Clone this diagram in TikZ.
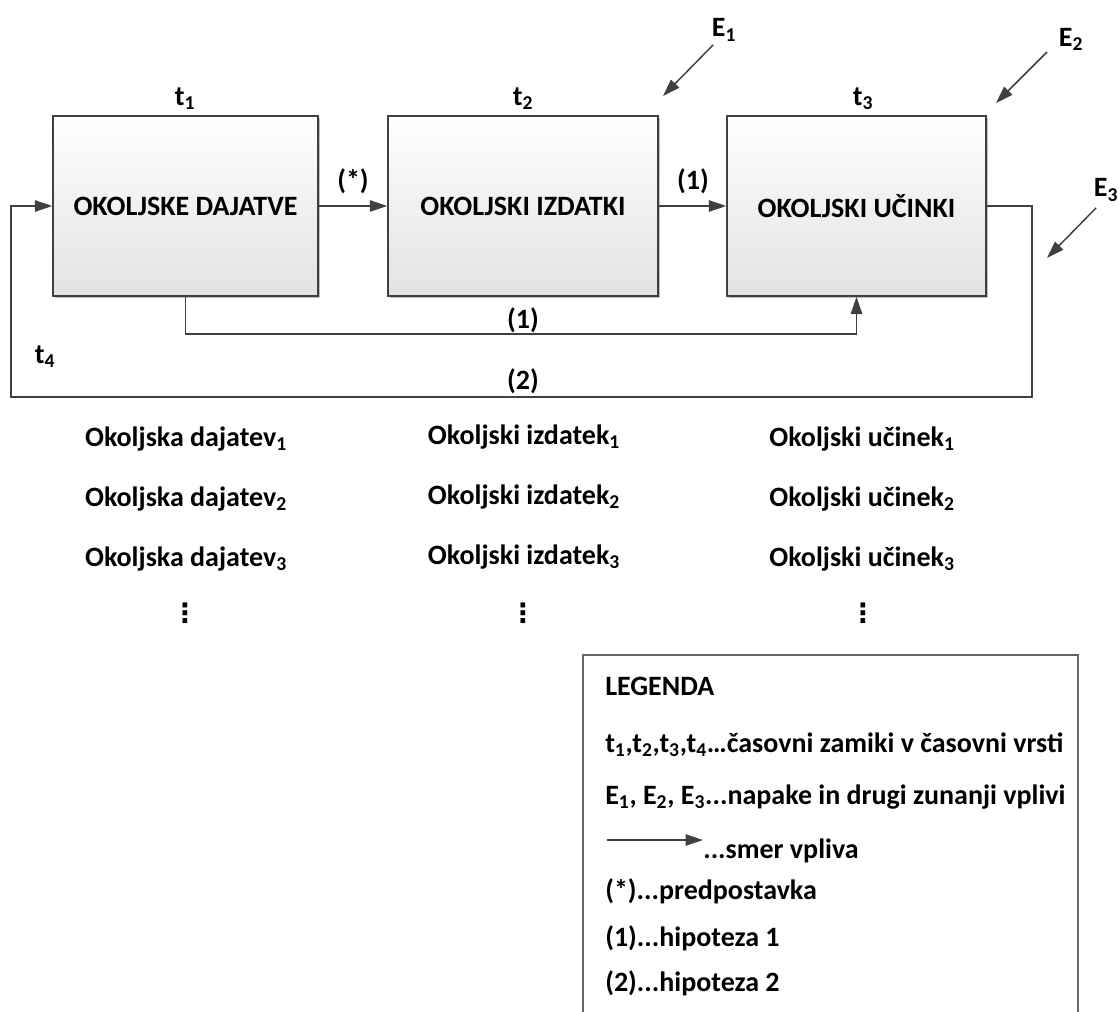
\documentclass[tikz,border=0pt]{standalone}
\usepackage{fontspec}
\setmainfont{Carlito}
\newfontfamily\dotsfont{DejaVu Sans}
\usetikzlibrary{arrows.meta,shadows}
\definecolor{ink}{HTML}{404040}
\definecolor{boxbot}{HTML}{E2E2E2}
\begin{document}
\begin{tikzpicture}[x=0.75pt,y=-0.75pt,
  lbl/.style={font=\fontsize{21}{25}\selectfont\bfseries, inner sep=0pt, text=black},
  vdot/.style={font=\fontsize{20}{24}\selectfont\dotsfont\bfseries, inner sep=0pt, text=black},
  blk/.style={lbl, draw=ink, line width=1.1pt, top color=white, bottom color=boxbot,
    minimum height=135pt,
    drop shadow={shadow xshift=1.5pt, shadow yshift=-1.5pt, opacity=0.25, fill=black}},
  conn/.style={draw=ink, line width=1.1pt, -{Triangle[length=13pt,width=8.5pt]}},
  wire/.style={draw=ink, line width=1.1pt}]
\useasboundingbox (0,0) rectangle (1119,1012);

% process blocks
\node[blk, minimum width=198.75pt] (b1) at (185.5,206) {OKOLJSKE DAJATVE};
\node[blk, minimum width=202.5pt] (b2) at (523,206) {OKOLJSKI IZDATKI};
\node[blk, minimum width=194.25pt] (b3) at (856.5,206) {OKOLJSKI UČINKI};

% time lags
\node[lbl] (t1) at (185,99) {t\textsubscript{1}};
\node[lbl] (t2) at (523,99) {t\textsubscript{2}};
\node[lbl] (t3) at (863,99) {t\textsubscript{3}};
\node[lbl] (t4) at (45,357) {t\textsubscript{4}};

% forward influences
\draw[conn] (b1.east) -- (b2.west);
\node[lbl] (ast) at (353,181) {(*)};
\draw[conn] (b2.east) -- (b3.west);
\node[lbl] (h1a) at (693,181) {(1)};

% direct link from block 1 to block 3
\coordinate (r1) at (0,334);
\draw[conn] (b1.south) |- (r1 -| b3.south) -- (b3.south);
\node[lbl] (h1b) at (523,320) {(1)};

% feedback loop
\coordinate (fbR) at (1032,397);
\coordinate (fbL) at (11,397);
\draw[conn] (b3.east) -| (fbR) -- (fbL) |- (b1.west);
\node[lbl] (h2) at (523,381) {(2)};

% external disturbances
\coordinate (e1s) at (713,45);  \coordinate (e1t) at (663,96);
\coordinate (e2s) at (1047,52); \coordinate (e2t) at (996,103);
\coordinate (e3s) at (1096,208); \coordinate (e3t) at (1047,258);
\draw[conn] (e1s) -- (e1t);
\draw[conn] (e2s) -- (e2t);
\draw[conn] (e3s) -- (e3t);
\node[lbl] (E1) at (724,30) {E\textsubscript{1}};
\node[lbl] (E2) at (1071,39) {E\textsubscript{2}};
\node[lbl] (E3) at (1106,190) {E\textsubscript{3}};

% item lists
\node[lbl] (d1) at (186,439) {Okoljska dajatev\textsubscript{1}};
\node[lbl] (d2) at (186,499) {Okoljska dajatev\textsubscript{2}};
\node[lbl] (d3) at (186,559) {Okoljska dajatev\textsubscript{3}};
\node[vdot] (dd) at (185,613) {⋮};
\node[lbl] (i1) at (524,437) {Okoljski izdatek\textsubscript{1}};
\node[lbl] (i2) at (524,497) {Okoljski izdatek\textsubscript{2}};
\node[lbl] (i3) at (524,557) {Okoljski izdatek\textsubscript{3}};
\node[vdot] (id) at (523,613) {⋮};
\node[lbl] (u1) at (862,439) {Okoljski učinek\textsubscript{1}};
\node[lbl] (u2) at (862,499) {Okoljski učinek\textsubscript{2}};
\node[lbl] (u3) at (862,559) {Okoljski učinek\textsubscript{3}};
\node[vdot] (ud) at (863,613) {⋮};

% legend
\draw[wire, draw=ink!80] (583,1012) -- (583,655) -- (1078,655) -- (1078,1012);
\node[lbl, anchor=west] (L0) at (605,686) {LEGENDA};
\node[lbl, anchor=west] (L1) at (605,745) {t\textsubscript{1},t\textsubscript{2},t\textsubscript{3},t\textsubscript{4}…časovni zamiki v časovni vrsti};
\node[lbl, anchor=west] (L2) at (605,797) {E\textsubscript{1}, E\textsubscript{2}, E\textsubscript{3}...napake in drugi zunanji vplivi};
\coordinate (la) at (607,840);
\node[lbl, anchor=west] (L3) at (703,851) {...smer vpliva};
\draw[conn] (la) -- (la -| L3.west);
\node[lbl, anchor=west] (L4) at (605,891) {(*)...predpostavka};
\node[lbl, anchor=west] (L5) at (605,938) {(1)...hipoteza 1};
\node[lbl, anchor=west] (L6) at (605,983) {(2)...hipoteza 2};
\end{tikzpicture}
\end{document}
